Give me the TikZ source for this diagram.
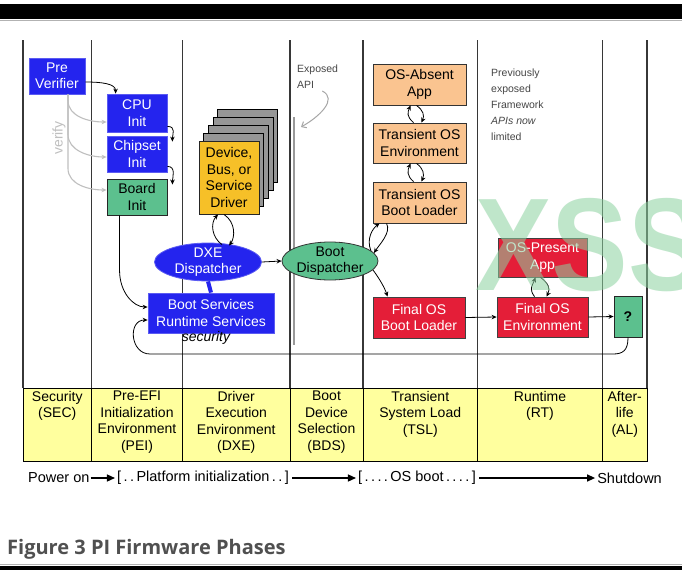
\documentclass[tikz,border=0pt]{standalone}
\usepackage{fontspec}
\setmainfont{Liberation Sans}
\newfontfamily\titlefont{Open Sans}
\usetikzlibrary{arrows.meta,calc,shapes.geometric}

\definecolor{piblue}{RGB}{36,36,238}
\definecolor{pigreen}{RGB}{92,192,142}
\definecolor{pitan}{RGB}{250,196,144}
\definecolor{pigold}{RGB}{246,192,40}
\definecolor{pired}{RGB}{228,30,56}
\definecolor{tabyellow}{RGB}{255,255,158}
\definecolor{stackgray}{RGB}{150,150,150}
\definecolor{colline}{RGB}{55,55,55}
\definecolor{notegray}{RGB}{70,70,70}
\definecolor{titlegray}{RGB}{80,80,80}
\definecolor{wmgreen}{RGB}{140,210,160}

\begin{document}
\begin{tikzpicture}[x=1pt,y=-1pt,
  lbl/.style={font=\fontsize{14}{16.5}\selectfont, align=center, inner sep=0pt},
  bluebox/.style={lbl, rectangle, fill=piblue, draw=piblue!75!white, line width=0.8pt, text=white},
  greenbox/.style={lbl, rectangle, fill=pigreen, draw=black!85, line width=0.9pt, text=black},
  tanbox/.style={lbl, rectangle, fill=pitan, draw=black!80, line width=0.9pt, text=black},
  redbox/.style={lbl, rectangle, fill=pired, draw=black!75, line width=0.8pt, text=white},
  goldbox/.style={lbl, rectangle, fill=pigold, draw=black!85, line width=0.9pt, text=black},
  flow/.style={line width=0.8pt, black, -{Stealth[length=5pt,width=4.5pt]}},
  vfy/.style={line width=1.1pt, black!25, -{Stealth[length=5pt,width=4.5pt]}},
  phase/.style={font=\fontsize{14}{16.5}\selectfont, align=center, inner sep=0pt, anchor=north},
  tline/.style={font=\fontsize{14.5}{16}\selectfont, inner sep=0pt},
  bigflow/.style={line width=1.3pt, black, -{Triangle[length=8pt,width=7pt]}},
  note/.style={font=\fontsize{10.5}{16}\selectfont, align=left, inner sep=0pt, text=notegray}]

\useasboundingbox (0,0) rectangle (682,570);
\fill[white] (0,0) rectangle (682,570);

% page frame bands
\fill[black] (0,4) rectangle (682,19);
\draw[black!30, line width=0.8pt] (0,20) -- (682,20);
\fill[black] (0,566) rectangle (682,570);
\draw[black!30, line width=0.8pt] (0,564.5) -- (682,564.5);

% phase column separators
\foreach \x in {23,91.5,182.5,290,363,477.5,602.5,647}
  \draw[colline, line width=1.1pt] (\x,40) -- (\x,388);

% phase table
\draw[fill=tabyellow, line width=1pt] (23,388) rectangle (647,461);
\foreach \x in {91.5,182.5,290,363,477.5,602.5}
  \draw[line width=1pt] (\x,388) -- (\x,461);
\node[phase] (tsec) at (57.25,391) {Security\\(SEC)};
\node[phase] (tpei) at (137,391) {Pre-EFI\\Initialization\\Environment\\(PEI)};
\node[phase] (tdxe) at (236.25,391) {Driver\\Execution\\Environment\\(DXE)};
\node[phase] (tbds) at (326.5,391) {Boot\\Device\\Selection\\(BDS)};
\node[phase] (ttsl) at (420.25,391) {Transient\\System Load\\(TSL)};
\node[phase] (trt) at (540,391) {Runtime\\(RT)};
\node[phase] (tal) at (624.75,391) {After-\\life\\(AL)};

% API boundary marker
\draw[black!40, line width=2pt] (293.5,117) -- (293.5,345);

% SEC / PEI
\node[bluebox, minimum width=56pt, minimum height=36pt] (pre) at (57,76) {Pre\\Verifier};
\node[bluebox, minimum width=60pt, minimum height=38pt] (cpu) at (137,113) {CPU\\Init};
\node[bluebox, minimum width=60pt, minimum height=36pt] (chip) at (137,154) {Chipset\\Init};
\node[greenbox, minimum width=60pt, minimum height=36pt] (board) at (137,197) {Board\\Init};

\draw[vfy] ($(pre.south)+(11,0)$) -- ++(0,6) .. controls +(0,16) and +(-18,0) .. ($(cpu.west)+(0,9)$);
\draw[vfy] ($(pre.south)+(11,0)$) -- ++(0,40) .. controls +(0,16) and +(-18,0) .. ($(chip.west)+(0,3)$);
\draw[vfy] ($(pre.south)+(11,0)$) -- ++(0,74) .. controls +(0,16) and +(-18,0) .. ($(board.west)+(0,-7)$);
\node[rotate=90, text=black!25, font=\fontsize{14}{16}\selectfont, inner sep=0pt] (vtxt) at (59,138) {verify};

\draw[flow] ($(pre.east)+(0,6)$) .. controls +(16,0) and +(0,-10) .. ($(cpu.north west)+(9,0)$);
\draw[flow] ($(cpu.south east)+(0,-6)$) .. controls +(9,0) and +(0,-7) .. ($(chip.north east)+(5,6)$);
\draw[flow] ($(chip.south east)+(0,-6)$) .. controls +(9,0) and +(0,-7) .. ($(board.north east)+(5,6)$);

% DXE
\coordinate (drvc) at (229,177.5);
\foreach \k in {4,3,2,1}
  \draw[fill=stackgray, line width=0.8pt] ($(drvc)+(-30+4.7*\k,-36.5-7.8*\k)$) rectangle ($(drvc)+(30+4.7*\k,36.5-7.8*\k)$);
\node[goldbox, minimum width=60pt, minimum height=73pt] (drv) at (drvc) {Device,\\Bus, or\\Service\\Driver};

\node[ellipse, fill=piblue, draw=piblue!75!white, line width=0.8pt, minimum width=107pt, minimum height=38pt, inner sep=0pt] (dxe) at (208,262) {};
\node[lbl, text=white] (dxet) at (dxe.center) {DXE\\Dispatcher};
\node[bluebox, minimum width=126pt, minimum height=40pt] (bs) at (211,313) {Boot Services\\Runtime Services};
\draw[piblue, line width=4pt] (dxe.south) -- (bs.north);
\node[lbl, font=\itshape\fontsize{14}{16}\selectfont] (sec) at (206,338) {security};

\draw[flow] ($(dxe.north)+(14,2)$) .. controls +(-10,-7) and +(-8,9) .. ($(drv.south)+(-11,0)$);
\draw[flow] ($(drv.south)+(-5,0)$) .. controls +(12,8) and +(6,-8) .. ($(dxe.north)+(21,3)$);

\draw[flow] ($(board.south west)+(13,0)$) -- ++(0,55) .. controls +(0,22) and +(-14,0) .. ($(bs.west)+(0,-6)$);

% BDS
\node[ellipse, fill=pigreen, draw=black!80, line width=0.8pt, minimum width=96pt, minimum height=38pt, inner sep=0pt] (bd) at (330,261) {};
\node[lbl] (bdt) at (bd.center) {Boot\\Dispatcher};
\draw[flow] (dxe.east) -- (bd.west);

\node[note, anchor=west] (expo) at (297,77) {Exposed\\API};
\coordinate (expotip) at (301,127);
\draw[black!35, line width=1pt, -{Straight Barb[length=4pt,width=7pt]}] ($(expo.south east)+(-16,2)$) .. controls +(16,8) and +(18,-10) .. (expotip);

% TSL
\node[tanbox, minimum width=93pt, minimum height=41pt] (osabs) at (419.5,84.5) {OS-Absent\\App};
\node[tanbox, minimum width=93pt, minimum height=40pt] (tosenv) at (419.5,143) {Transient OS\\Environment};
\node[tanbox, minimum width=93pt, minimum height=41pt] (tosbl) at (419.5,202.5) {Transient OS\\Boot Loader};
\node[redbox, minimum width=92pt, minimum height=41pt] (fbl) at (419,317.5) {Final OS\\Boot Loader};

\draw[flow] ($(tosenv.north)+(-6,0)$) .. controls +(-7,-6) and +(-3,7) .. ($(osabs.south)+(-9,0)$);
\draw[flow] ($(osabs.south)+(-3,0)$) .. controls +(7,5) and +(3,-7) .. ($(tosenv.north)+(2,0)$);
\draw[flow] ($(tosbl.north)+(-6,0)$) .. controls +(-7,-6) and +(-3,7) .. ($(tosenv.south)+(-9,0)$);
\draw[flow] ($(tosenv.south)+(-3,0)$) .. controls +(7,5) and +(3,-7) .. ($(tosbl.north)+(2,0)$);

\draw[flow] ($(bd.center)+(41,-10)$) .. controls +(-5,-12) and +(-7,5) .. ($(tosbl.south west)+(7,0)$);
\draw[flow] ($(tosbl.south west)+(14,0)$) .. controls +(5,9) and +(5,-8) .. ($(bd.center)+(44,-8)$);
\draw[flow] ($(bd.center)+(43,9)$) .. controls +(6,8) and +(-3,-9) .. ($(fbl.north west)+(15,0)$);

% RT / AL
\node[note, anchor=west] (prev) at (491,105) {Previously\\exposed\\Framework\\\textit{APIs now}\\limited};
\node[redbox, minimum width=91pt, minimum height=40pt] (fenv) at (542.5,317) {Final OS\\Environment};
\node[redbox, minimum width=89pt, minimum height=39pt] (osp) at (542.5,257.5) {OS-Present\\App};
\node[greenbox, minimum width=28pt, minimum height=41pt, font=\bfseries\fontsize{14}{16}\selectfont] (q) at (628,316.5) {?};

\draw[flow] ($(fenv.north)+(-8,0)$) .. controls +(-6,-8) and +(-3,8) .. ($(osp.south)+(-7,0)$);
\draw[flow] ($(osp.south)+(-2,0)$) .. controls +(8,6) and +(4,-8) .. ($(fenv.north)+(4,0)$);
\draw[flow] (fbl.east) -- (fenv.west);
\draw[flow] (fenv.east) -- (q.west);

\coordinate (loopR) at (613,354);
\coordinate (loopL) at (150,354);
\draw[flow] (q.south) .. controls +(0,13) and +(10,0) .. (loopR) -- (loopL) .. controls +(-20,0) and +(-20,0) .. ($(bs.west)+(0,7)$);

% timeline
\node[tline, anchor=west] (pwr) at (28,478) {Power on};
\node[tline] (plat) at (203,478) {[\,.\,.\,Platform initialization\,.\,.\,]};
\node[tline] (osb) at (417,478) {[\,.\,.\,.\,.\,OS boot\,.\,.\,.\,.\,]};
\node[tline, anchor=east] (shut) at (662,478) {Shutdown};
\draw[bigflow] ($(pwr.east)+(1,0)$) -- ($(plat.west)+(-2,0)$);
\draw[bigflow] ($(plat.east)+(3,0)$) -- ($(osb.west)+(-2,0)$);
\draw[bigflow] ($(osb.east)+(3,0)$) -- ($(shut.west)+(-2,0)$);

% caption
\node[anchor=west, inner sep=0pt, text=titlegray, font=\titlefont\bfseries\fontsize{20}{24}\selectfont] (title) at (7,549) {Figure 3 PI Firmware Phases};

% watermark
\node[anchor=base west, inner sep=0pt, text=wmgreen, opacity=0.55, xscale=0.87, font=\bfseries\fontsize{132}{132}\selectfont] (wm) at (475,290) {XSS};
\end{tikzpicture}
\end{document}
